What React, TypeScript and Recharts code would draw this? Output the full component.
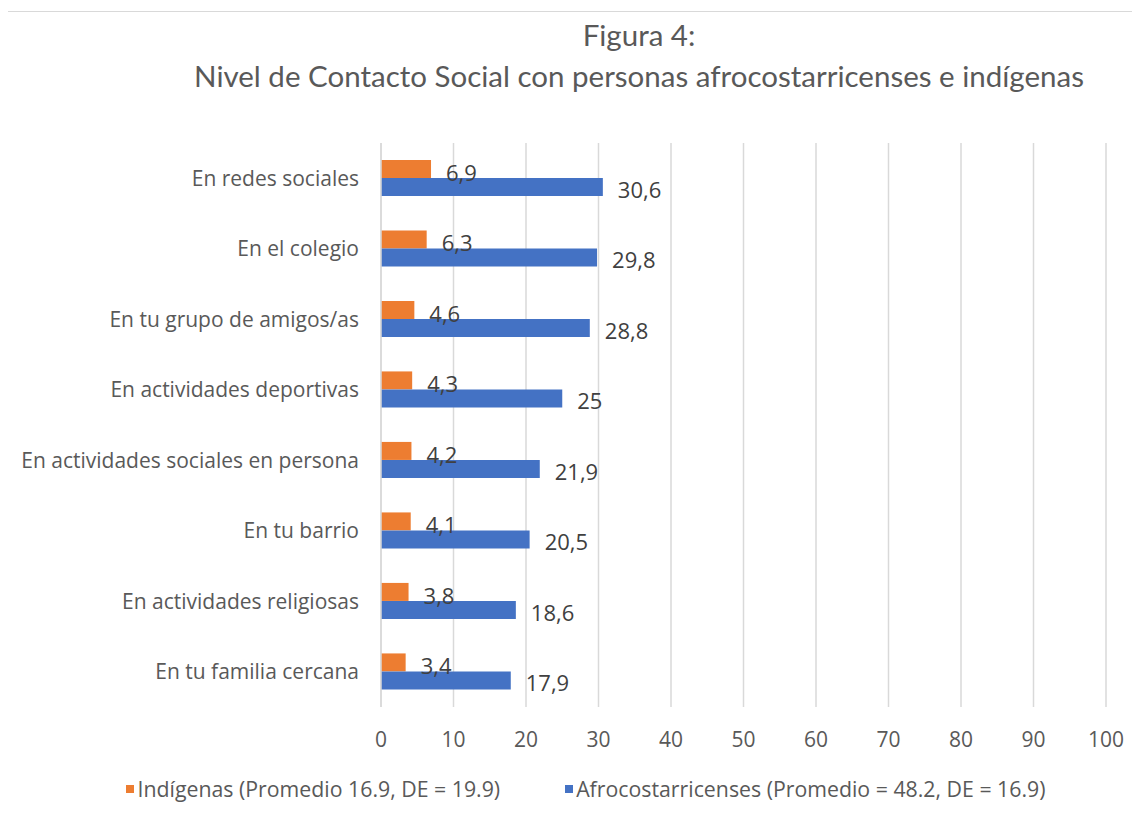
import React from "react";
import { BarChart, Bar, XAxis, YAxis, CartesianGrid, Legend, LabelList } from "recharts";

const categories = [
  "En redes sociales",
  "En el colegio",
  "En tu grupo de amigos/as",
  "En actividades deportivas",
  "En actividades sociales en persona",
  "En tu barrio",
  "En actividades religiosas",
  "En tu familia cercana",
];
const indigenas = [6.9, 6.3, 4.6, 4.3, 4.2, 4.1, 3.8, 3.4];
const afro = [30.6, 29.8, 28.8, 25, 21.9, 20.5, 18.6, 17.9];
const xTicks = [0, 10, 20, 30, 40, 50, 60, 70, 80, 90, 100];
const seriesNames = [
  "Indígenas (Promedio 16.9, DE = 19.9)",
  "Afrocostarricenses (Promedio = 48.2, DE = 16.9)",
];
const titleLines = ["Figura 4:", "Nivel de Contacto Social con personas afrocostarricenses e indígenas"];

const data = categories.map((c, i) => ({ cat: c, ind: indigenas[i], afro: afro[i] }));

const FONT = "'Open Sans', Lato, sans-serif";
const TITLE_FONT = "Lato, 'Open Sans', sans-serif";
const ORANGE = "#ED7D31";
const BLUE = "#4472C4";

const fmt = (v: any) => String(v).replace(".", ",");

const makeLabel = (dyOff: number) => (props: any) => {
  const { x, y, width, height, value } = props;
  return (
    <text
      x={Number(x) + Number(width) + 15}
      y={Number(y) + Number(height) / 2 + dyOff}
      fill="#404040"
      fontSize={22}
      fontFamily={FONT}
      dominantBaseline="central"
    >
      {fmt(value)}
    </text>
  );
};

const LegendContent = (props: any) => {
  const payload = [...(props.payload || [])].sort(
    (a: any, b: any) => seriesNames.indexOf(a.value) - seriesNames.indexOf(b.value)
  );
  return (
    <div style={{ display: "flex", justifyContent: "center", paddingLeft: 32, gap: 65, fontFamily: FONT, fontSize: 21.3, color: "#595959", lineHeight: "26px" }}>
      {payload.map((p: any, i: number) => (
        <div key={i} style={{ display: "flex", alignItems: "center", whiteSpace: "nowrap" }}>
          <span style={{ display: "inline-block", width: 8, height: 8, background: p.color, marginRight: 3 }} />
          <span>{p.value}</span>
        </div>
      ))}
    </div>
  );
};

export default function App() {
  return (
    <div style={{ position: "relative", width: 1140, height: 822, margin: -8, overflow: "hidden", background: "#fff" }}>
      <BarChart
        width={1140}
        height={822}
        data={data}
        layout="vertical"
        margin={{ top: 143, right: 34, bottom: 75, left: 0 }}
        barCategoryGap="24%"
        barGap={0}
      >
        <CartesianGrid horizontal={false} vertical={true} stroke="#d9d9d9" strokeWidth={1.5} />
        <XAxis
          type="number"
          domain={[0, 100]}
          ticks={xTicks}
          interval={0}
          axisLine={false}
          tickLine={false}
          tickSize={0}
          tickMargin={25}
          height={40}
          tick={{ fill: "#595959", fontSize: 21, fontFamily: FONT }}
        />
        <YAxis
          type="category"
          dataKey="cat"
          width={381}
          axisLine={{ stroke: "#d9d9d9", strokeWidth: 1.5 }}
          tickLine={false}
          tickSize={0}
          tickMargin={22}
          interval={0}
          tick={{ fill: "#595959", fontSize: 21, fontFamily: FONT }}
        />
        <Legend
          layout="horizontal"
          verticalAlign="middle"
          align="center"
          content={<LegendContent />}
          wrapperStyle={{ position: "absolute", top: 776, left: 0, width: 1140 }}
        />
        <Bar dataKey="ind" name={seriesNames[0]} fill={ORANGE} isAnimationActive={false}>
          <LabelList dataKey="ind" content={makeLabel(3)} />
        </Bar>
        <Bar dataKey="afro" name={seriesNames[1]} fill={BLUE} isAnimationActive={false}>
          <LabelList dataKey="afro" content={makeLabel(2)} />
        </Bar>
      </BarChart>
      <svg width={1140} height={822} style={{ position: "absolute", left: 0, top: 0, pointerEvents: "none" }}>
        <line x1={6.5} y1={11.5} x2={6.5} y2={822} stroke="#d9d9d9" strokeWidth={1} />
        <line x1={6.5} y1={11.5} x2={1140} y2={11.5} stroke="#d9d9d9" strokeWidth={1} />
        <text x={639} y={46} textAnchor="middle" fontFamily={TITLE_FONT} fontSize={29.5} fill="#595959">
          {titleLines[0]}
        </text>
        <text x={639} y={87} textAnchor="middle" fontFamily={TITLE_FONT} fontSize={29.5} fill="#595959">
          {titleLines[1]}
        </text>
      </svg>
    </div>
  );
}
